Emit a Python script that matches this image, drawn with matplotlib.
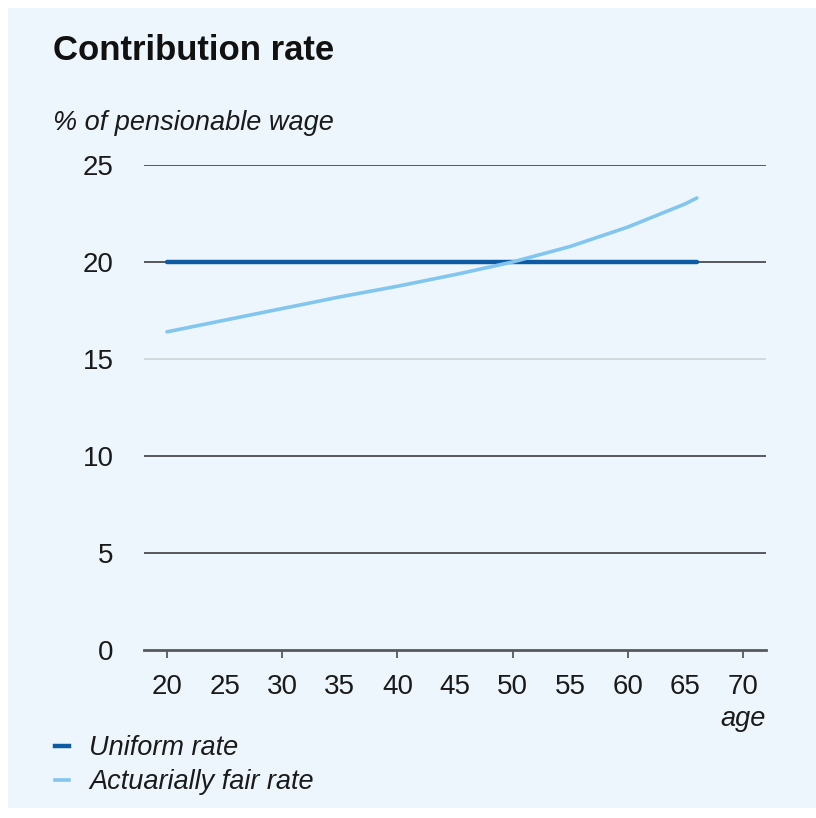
import matplotlib.pyplot as plt
from matplotlib.patches import Rectangle
from matplotlib.lines import Line2D

plt.rcParams['font.family'] = ['Liberation Sans', 'DejaVu Sans']

# Data
ages = [20, 25, 30, 35, 40, 45, 50, 55, 60, 65, 66]
uniform_rate = [20, 20, 20, 20, 20, 20, 20, 20, 20, 20, 20]
fair_rate = [16.4, 17.0, 17.6, 18.2, 18.75, 19.35, 20.0, 20.8, 21.8, 23.0, 23.3]
x_major = [20, 30, 40, 50, 60, 70]
x_minor = [25, 35, 45, 55, 65]
y_ticks = [0, 5, 10, 15, 20, 25]

dark_blue = "#0d5ba3"
light_blue = "#82c6ef"
bg = "#eef6fd"
grid_dark = "#55595d"
txt = "#1a1a1a"

fig = plt.figure(figsize=(8.16, 8.18), dpi=100)
fig.patch.set_facecolor("white")
fig.patches.append(Rectangle((8 / 816, 10 / 818), 808 / 816, 800 / 818,
                             transform=fig.transFigure, facecolor=bg,
                             edgecolor="none", zorder=-10))

ax = fig.add_axes([144 / 816, 1 - 650 / 818, 622 / 816, 485 / 818])
ax.set_facecolor("none")

ax.plot(ages, uniform_rate, color=dark_blue, lw=3.2, solid_capstyle="round", zorder=3)
ax.plot(ages, fair_rate, color=light_blue, lw=2.6, solid_capstyle="round", zorder=4)

ax.set_xlim(18, 72)
ax.set_ylim(0, 25)

# gridlines (the 15 line is much fainter in the original)
for y in y_ticks[1:]:
    col = "#d3d8dc" if y == 15 else grid_dark
    ax.axhline(y, color=col, lw=1.4, zorder=1)

for s in ["top", "right", "left"]:
    ax.spines[s].set_visible(False)
ax.spines["bottom"].set_color(grid_dark)
ax.spines["bottom"].set_linewidth(2)

ax.set_yticks(y_ticks)
ax.tick_params(axis="y", length=0, pad=22, labelsize=20, labelcolor=txt)
ax.set_xticks(x_major)
ax.set_xticks(x_minor, minor=True)
ax.set_xticklabels([str(v) for v in x_major])
ax.set_xticklabels([str(v) for v in x_minor], minor=True)
ax.tick_params(axis="x", which="major", length=6, width=1.3, color=grid_dark,
               direction="out", pad=11, labelsize=20, labelcolor=txt)
ax.tick_params(axis="x", which="minor", length=0, pad=17, labelsize=20,
               labelcolor=txt)

fig.text(53 / 816, 1 - 51 / 818, "Contribution rate", fontsize=25,
         fontweight="bold", va="center", ha="left", color="#111111")
fig.text(53 / 816, 1 - 123 / 818, "% of pensionable wage", fontsize=19.5,
         fontstyle="italic", va="center", ha="left", color=txt)
fig.text(766 / 816, 1 - 719 / 818, "age", fontsize=19.5, fontstyle="italic",
         va="center", ha="right", color=txt)

handles = [Line2D([], [], color=dark_blue, lw=3.2),
           Line2D([], [], color=light_blue, lw=2.6)]
leg = fig.legend(handles, ["Uniform rate", "Actuarially fair rate"],
                 loc="upper left", bbox_to_anchor=(55 / 816, 1 - 735 / 818),
                 frameon=False, handlelength=0.5, handletextpad=0.75,
                 labelspacing=0.3, borderaxespad=0, borderpad=0,
                 prop={"size": 19.5, "style": "italic"})
for t in leg.get_texts():
    t.set_color(txt)

fig.savefig("out.png", dpi=100, facecolor=fig.get_facecolor())
